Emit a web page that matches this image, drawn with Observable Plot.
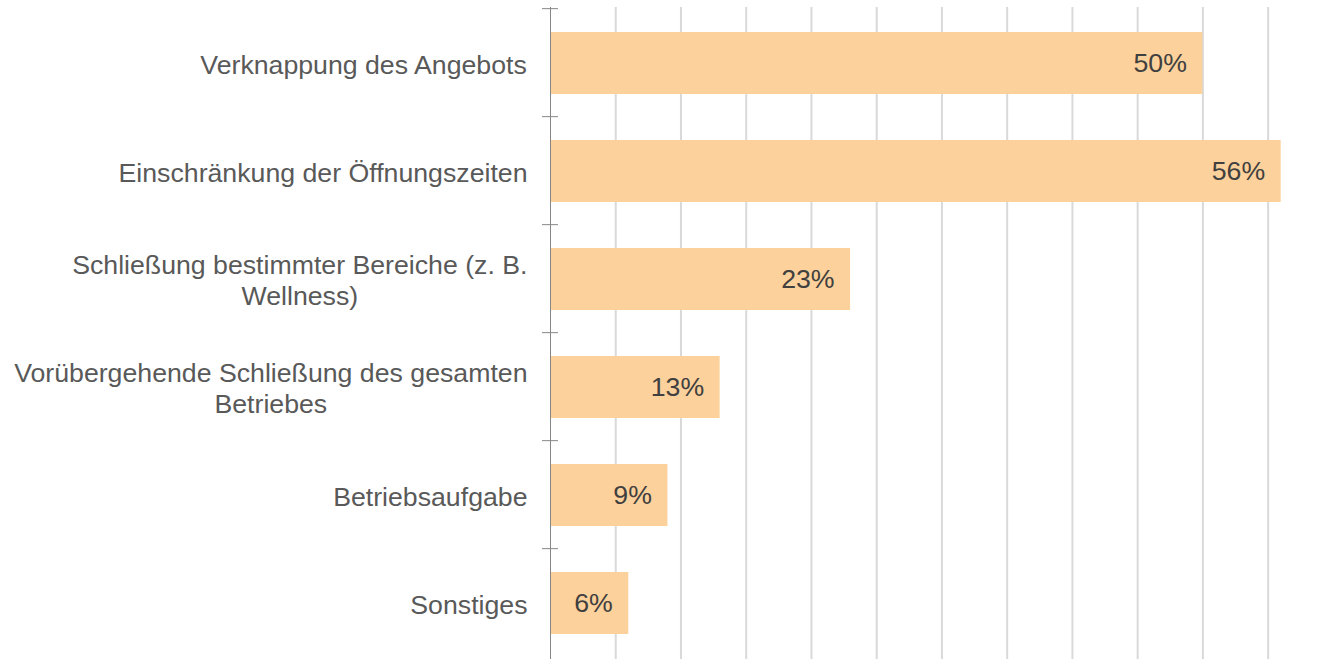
<!DOCTYPE html>
<html>
<head>
<meta charset="utf-8">
<script src="https://cdn.jsdelivr.net/npm/d3@7"></script>
<script src="https://cdn.jsdelivr.net/npm/@observablehq/plot@0.6"></script>
<style>
  html, body { margin: 0; padding: 0; background: #fff; }
  #chart { width: 1318px; height: 659px; overflow: hidden; }
</style>
</head>
<body>
<div id="chart"></div>
<script>
// ---- data ----
const categories = [
  "Verknappung des Angebots",
  "Einschränkung der Öffnungszeiten",
  "Schließung bestimmter Bereiche (z. B.\nWellness)",
  "Vorübergehende Schließung des gesamten\nBetriebes",
  "Betriebsaufgabe",
  "Sonstiges"
];
const values = [50, 56, 23, 13, 9, 6];
const gridTicks = [5, 10, 15, 20, 25, 30, 35, 40, 45, 50, 55];

const data = categories.map((c, i) => ({label: c, value: values[i]}));

// ---- layout ----
const W = 1318, H = 659;
const mTop = 7, mBottom = 0, mLeft = 550, mRight = 0;
const fontFamily = '"Liberation Sans", Arial, sans-serif';
const fontSize = 26.7;
const step = (H - mTop - mBottom) / categories.length;
const labelGap = 23;
const tickHalf = 8;

// measure label widths to center multi-line labels in a right-aligned block
const ctx = document.createElement("canvas").getContext("2d");
ctx.font = `${fontSize}px ${fontFamily}`;
const blockWidth = s => Math.max(...s.split("\n").map(l => ctx.measureText(l).width));

const labelMarks = data.map(d => Plot.text([d], {
  x: () => 0,
  y: "label",
  text: "label",
  textAnchor: "middle",
  lineAnchor: "middle",
  lineHeight: 1.17,
  dx: -(labelGap + blockWidth(d.label) / 2),
  fill: "#595959",
  fontSize
}));

// category boundary ticks crossing the vertical axis (top edge of each band)
function boundaryTicks(index, scales) {
  const ys = scales.y, xs = scales.x;
  const bw = typeof ys.bandwidth === "function" ? ys.bandwidth() : 0;
  const x0 = xs(0);
  const edges = categories.map(c => ys(c) + bw / 2 - step / 2);
  const g = d3.create("svg:g").attr("stroke", "#868686").attr("stroke-width", 1);
  g.selectAll("line").data(edges).join("line")
    .attr("x1", x0 - tickHalf).attr("x2", x0 + tickHalf)
    .attr("y1", d => d).attr("y2", d => d);
  return g.node();
}

const chart = Plot.plot({
  width: W,
  height: H,
  marginTop: mTop,
  marginBottom: mBottom,
  marginLeft: mLeft,
  marginRight: mRight,
  style: {fontFamily, background: "#fff", overflow: "visible"},
  x: {domain: [0, 58.86], axis: null},
  y: {domain: categories, paddingInner: 0.43, paddingOuter: 0.215, axis: null},
  marks: [
    Plot.ruleX(gridTicks, {stroke: "#d9d9d9", strokeWidth: 2}),
    Plot.barX(data, {x: "value", y: "label", fill: "#fdd19b"}),
    Plot.ruleX([0], {stroke: "#868686", strokeWidth: 1}),
    boundaryTicks,
    Plot.text(data, {
      x: "value", y: "label",
      text: d => d.value + "%",
      textAnchor: "end", dx: -16,
      fill: "#404040", fontSize
    }),
    ...labelMarks
  ]
});
document.getElementById("chart").appendChild(chart);
</script>
</body>
</html>
